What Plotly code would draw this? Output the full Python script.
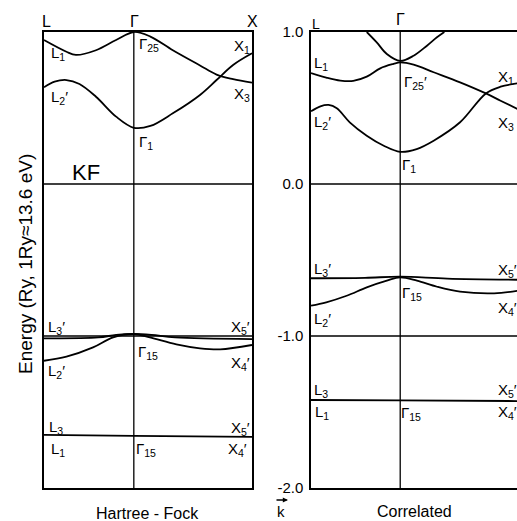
import plotly.graph_objects as go

W, H = 517, 521

# k-path coordinate: L at -0.76, Gamma at 0, X at 1 (Gamma-X = 1)
K_L, K_G, K_X = -0.76, 0.0, 1.0

# ---------------- Hartree-Fock bands (Ry) ----------------
hf_c1_k = [-0.76, -0.57, -0.49, -0.32, -0.15, 0.0, 0.14, 0.33, 0.56, 0.70, 0.84, 1.0]
hf_c1_e = [0.947, 0.87, 0.849, 0.88, 0.947, 1.0, 0.97, 0.88, 0.78, 0.72, 0.69, 0.667]

hf_c2_k = [-0.76, -0.67, -0.57, -0.46, -0.32, -0.15, 0.0, 0.14, 0.33, 0.56, 0.70, 0.84, 1.0]
hf_c2_e = [0.636, 0.673, 0.684, 0.658, 0.574, 0.443, 0.370, 0.382, 0.465, 0.586, 0.684, 0.783, 0.860]

hf_v1_k = [-0.76, -0.30, -0.15, 0.0, 0.15, 0.35, 1.0]
hf_v1_e = [-1.015, -1.009, -0.993, -0.987, -0.993, -1.009, -1.02]

hf_v2_k = [-0.76, -0.57, -0.345, -0.175, 0.0, 0.136, 0.36, 0.56, 0.73, 1.0]
hf_v2_e = [-1.163, -1.136, -1.075, -1.009, -0.987, -1.009, -1.055, -1.081, -1.088, -1.059]

hf_core_k = [-0.76, 0.0, 1.0]
hf_core_e = [-1.651, -1.657, -1.664]

# ---------------- Correlated bands (Ry) ----------------
co_c0_k = [-0.285, -0.2, -0.114, 0.0, 0.114, 0.228, 0.313, 0.376]
co_c0_e = [1.0, 0.932, 0.855, 0.81, 0.844, 0.91, 0.965, 1.0]

co_c1_k = [-0.76, -0.63, -0.51, -0.40, -0.285, -0.17, -0.057, 0.0, 0.114, 0.285, 0.51, 0.73, 0.855, 1.0]
co_c1_e = [0.73, 0.70, 0.68, 0.678, 0.706, 0.761, 0.79, 0.80, 0.785, 0.735, 0.669, 0.596, 0.548, 0.493]

co_c2_k = [-0.76, -0.68, -0.61, -0.54, -0.43, -0.285, -0.14, 0.0, 0.14, 0.285, 0.51, 0.73, 0.855, 1.0]
co_c2_e = [0.478, 0.511, 0.52, 0.498, 0.406, 0.318, 0.252, 0.212, 0.23, 0.285, 0.406, 0.596, 0.64, 0.662]

co_v1_k = [-0.76, -0.30, 0.0, 0.40, 1.0]
co_v1_e = [-0.62, -0.617, -0.61, -0.622, -0.63]

co_v2_k = [-0.76, -0.63, -0.456, -0.285, -0.114, 0.0, 0.143, 0.314, 0.51, 0.80, 1.0]
co_v2_e = [-0.80, -0.778, -0.735, -0.68, -0.636, -0.614, -0.636, -0.676, -0.708, -0.719, -0.702]

co_core_k = [-0.76, 0.0, 1.0]
co_core_e = [-1.421, -1.424, -1.428]

y_ticks = [1.0, 0.0, -1.0, -2.0]
y_tick_text = ["1.0", "0.0", "-1.0", "-2.0"]

FONT = "Liberation Sans"
LINE = dict(color="black", width=1.8, shape="spline", smoothing=1.0)

fig = go.Figure()

hf_bands = [(hf_c1_k, hf_c1_e), (hf_c2_k, hf_c2_e), (hf_v1_k, hf_v1_e),
            (hf_v2_k, hf_v2_e), (hf_core_k, hf_core_e)]
co_bands = [(co_c0_k, co_c0_e), (co_c1_k, co_c1_e), (co_c2_k, co_c2_e),
            (co_v1_k, co_v1_e), (co_v2_k, co_v2_e), (co_core_k, co_core_e)]

for k, e in hf_bands:
    fig.add_trace(go.Scatter(x=k, y=e, mode="lines", line=LINE, xaxis="x", yaxis="y",
                             showlegend=False, hoverinfo="skip"))
for k, e in co_bands:
    fig.add_trace(go.Scatter(x=k, y=e, mode="lines", line=LINE, xaxis="x2", yaxis="y2",
                             showlegend=False, hoverinfo="skip"))

ydom = [33 / H, 489 / H]
axis_common = dict(showgrid=False, zeroline=False, ticks="", linecolor="black",
                   linewidth=1.5, automargin=False)

fig.update_layout(
    width=W, height=H,
    margin=dict(l=0, r=0, t=0, b=0, pad=0),
    paper_bgcolor="white", plot_bgcolor="white",
    font=dict(family=FONT, color="black", size=15),
    xaxis=dict(domain=[44 / W, 252 / W], range=[K_L, K_X], showticklabels=False,
               showline=True, mirror=True, **axis_common),
    yaxis=dict(domain=ydom, range=[-2, 1], showticklabels=False,
               showline=True, mirror=True, **axis_common),
    xaxis2=dict(domain=[311 / W, 1.0], range=[K_L, 0.995], showticklabels=False,
                showline=True, mirror=True, anchor="y2", **axis_common),
    yaxis2=dict(domain=ydom, range=[-2, 1], anchor="x2", showline=True, mirror=False,
                tickvals=y_ticks, ticktext=y_tick_text, ticklabelstandoff=3,
                tickfont=dict(size=15, family=FONT), **axis_common),
)

# Gamma vertical line and horizontal reference lines at 0 and -1 Ry
shapes = []
for xa, ya in (("x", "y"), ("x2", "y2")):
    shapes.append(dict(type="line", xref=xa, yref=f"{ya} domain", x0=K_G, x1=K_G, y0=0, y1=1,
                       line=dict(color="black", width=1.3)))
    for lvl in (0.0, -1.0):
        shapes.append(dict(type="line", xref=f"{xa} domain", yref=ya, x0=0, x1=1, y0=lvl, y1=lvl,
                           line=dict(color="black", width=1.3)))
fig.update_layout(shapes=shapes)


def at(x, y):
    return x / W, 1 - y / H


def label(text, x, y, size=15, xanchor="left", angle=0):
    px_, py_ = at(x, y)
    fig.add_annotation(text=text, x=px_, y=py_, xref="paper", yref="paper",
                       xanchor=xanchor, yanchor="middle", showarrow=False,
                       textangle=angle, font=dict(size=size, family=FONT, color="black"))


G = "Γ"
# symmetry point headings
label("L", 46, 21, 16, "center")
label(G, 134, 21, 16, "center")
label("X", 252, 21, 16, "center")
label("L", 316, 24, 14, "center")
label(G, 400, 20, 16, "center")

# Hartree-Fock labels
label("L<sub>1</sub>", 49, 54)
label("L<sub>2</sub>′", 49, 97)
label(G + "<sub>25</sub>", 137, 45)
label("X<sub>1</sub>", 232, 46)
label("X<sub>3</sub>", 232, 95)
label(G + "<sub>1</sub>", 137, 142)
label("KF", 86, 172, 22, "center")
label("L<sub>3</sub>′", 46, 327)
label("X<sub>5</sub>′", 229, 327)
label(G + "<sub>15</sub>", 136, 352)
label("X<sub>4</sub>′", 229, 363)
label("L<sub>2</sub>′", 46, 372)
label("L<sub>3</sub>", 47, 427)
label("X<sub>5</sub>′", 229, 428)
label("L<sub>1</sub>", 49, 449)
label(G + "<sub>15</sub>", 134, 449)
label("X<sub>4</sub>′", 226, 449)

# Correlated labels
label("L<sub>1</sub>", 312, 63)
label(G + "<sub>25</sub>′", 402, 83)
label("X<sub>1</sub>", 496, 77)
label("L<sub>2</sub>′", 312, 122)
label("X<sub>3</sub>", 496, 123)
label(G + "<sub>1</sub>", 400, 166)
label("L<sub>3</sub>′", 312, 269)
label("X<sub>5</sub>′", 496, 270)
label(G + "<sub>15</sub>", 400, 293)
label("X<sub>4</sub>′", 496, 308)
label("L<sub>2</sub>′", 312, 319)
label("L<sub>3</sub>", 312, 390)
label("X<sub>5</sub>′", 496, 390)
label("L<sub>1</sub>", 313, 412)
label(G + "<sub>15</sub>", 399, 413)
label("X<sub>4</sub>′", 496, 412)

# panel captions and axis title
label("Hartree - Fock", 147, 513, 16, "center")
label("Correlated", 414, 511, 16, "center")
label("Energy (Ry, 1Ry≈13.6 eV)", 25, 264, 19, "center", angle=-90)

# wave-vector symbol: k with an arrow above it
label("k", 281, 511, 15, "center")
hx, hy = at(288, 500)
fig.add_annotation(x=hx, y=hy, xref="paper", yref="paper", text="", showarrow=True,
                   ax=-13, ay=0, arrowhead=2, arrowsize=0.8, arrowwidth=1.3,
                   arrowcolor="black")

fig.write_html("out.html")
